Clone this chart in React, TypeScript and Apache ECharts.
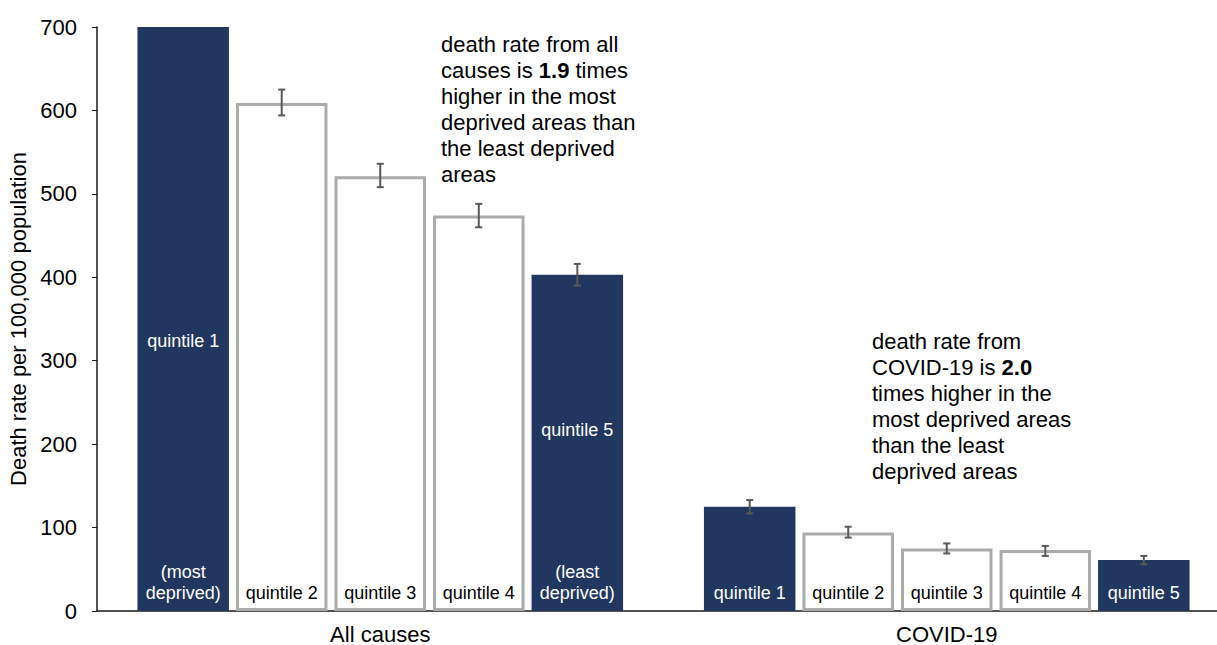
import React, { useEffect, useRef } from "react";
import * as echarts from "echarts";

const categories = ["All causes", "COVID-19"];
const quintileNames = ["quintile 1", "quintile 2", "quintile 3", "quintile 4", "quintile 5"];
// values per quintile: [All causes, COVID-19]
const quintile1 = [766, 125];
const quintile2 = [609, 94];
const quintile3 = [521, 75];
const quintile4 = [474, 73];
const quintile5 = [403, 61];
const seriesValues = [quintile1, quintile2, quintile3, quintile4, quintile5];
// confidence intervals per quintile: [All causes, COVID-19]
const lowerCI = [
  [751, 117],
  [594, 88],
  [508, 69],
  [460, 66],
  [390, 56],
];
const upperCI = [
  [781, 133],
  [625, 101],
  [536, 81],
  [488, 78],
  [416, 66],
];
const yTicks = { min: 0, max: 700, interval: 100 };
const yAxisTitle = "Death rate per 100,000 population";
// extra in-bar labels: [category index, quintile index, y value]
const midLabelPos = [
  [0, 0, 324],
  [0, 4, 217],
];
const midLabelText = ["quintile 1", "quintile 5"];
const noteAll = "death rate from all\ncauses is {b|1.9} times\nhigher in the most\ndeprived areas than\nthe least deprived\nareas";
const noteCovid = "death rate from\nCOVID-19 is {b|2.0}\ntimes higher in the\nmost deprived areas\nthan the least\ndeprived areas";

const NAVY = "#21375f";
const GREY = "#ababab";
const FONT = "Liberation Sans, Arial, sans-serif";
const BAR_W = 0.1615;
const BAR_GAP = 0.077;

function barCenter(api: any, cat: number, s: number) {
  const band = api.size([1, 0])[0];
  const bw = band * BAR_W;
  const gap = bw * BAR_GAP;
  return api.coord([cat, 0])[0] + (s - 2) * (bw + gap);
}

export default function App() {
  const ref = useRef<HTMLDivElement>(null);
  useEffect(() => {
    if (!ref.current) return;
    const chart = echarts.init(ref.current, null, { renderer: "svg" });
    const barSeries = seriesValues.map((vals, i) => {
      const dark = i === 0 || i === 4;
      return {
        type: "bar",
        name: quintileNames[i],
        data: vals,
        barWidth: BAR_W * 100 + "%",
        barGap: BAR_GAP * 100 + "%",
        clip: true,
        itemStyle: dark
          ? { color: NAVY }
          : { color: "#ffffff", borderColor: GREY, borderWidth: 3 },
        label: {
          show: true,
          position: "insideBottom",
          distance: 8,
          color: dark ? "#ffffff" : "#000000",
          fontSize: 18,
          lineHeight: 21,
          fontFamily: FONT,
          formatter: (p: any) => {
            if (p.dataIndex === 0 && i === 0) return "(most\ndeprived)";
            if (p.dataIndex === 0 && i === 4) return "(least\ndeprived)";
            return quintileNames[i];
          },
        },
      };
    });
    const errData: number[][] = [];
    for (let s = 0; s < 5; s++) {
      for (let c = 0; c < categories.length; c++) {
        errData.push([c, s, lowerCI[s][c], upperCI[s][c]]);
      }
    }
    const option: any = {
      animation: false,
      grid: {
        left: 97,
        width: 1133,
        top: 27,
        bottom: 34,
        containLabel: false,
        outerBoundsMode: "none",
      },
      xAxis: {
        type: "category",
        data: categories,
        axisTick: { show: false },
        axisLine: { lineStyle: { color: "#1a1a1a", width: 1.5 } },
        axisLabel: { fontSize: 22, lineHeight: 22, color: "#000", margin: 12, fontFamily: FONT },
      },
      yAxis: {
        type: "value",
        min: yTicks.min,
        max: yTicks.max,
        interval: yTicks.interval,
        name: yAxisTitle,
        nameLocation: "middle",
        nameGap: 65,
        nameTextStyle: { fontSize: 22, color: "#000", fontFamily: FONT },
        splitLine: { show: false },
        axisLine: { show: true, lineStyle: { color: "#1a1a1a", width: 1.5 } },
        axisTick: { show: true, length: 5, lineStyle: { color: "#1a1a1a" } },
        axisLabel: { fontSize: 22, color: "#000", margin: 20, fontFamily: FONT },
      },
      series: [
        ...barSeries,
        {
          type: "custom",
          name: "95% CI",
          clip: true,
          data: errData,
          encode: { x: 0, y: 3 },
          z: 10,
          renderItem: (params: any, api: any) => {
            const cat = api.value(0);
            const s = api.value(1);
            const cx = barCenter(api, cat, s);
            const yLo = api.coord([cat, api.value(2)])[1];
            const yHi = api.coord([cat, api.value(3)])[1];
            const st = { stroke: "#595959", lineWidth: 2 };
            const hw = 3.5;
            return {
              type: "group",
              children: [
                { type: "line", shape: { x1: cx, y1: yLo, x2: cx, y2: yHi }, style: st },
                { type: "line", shape: { x1: cx - hw, y1: yLo, x2: cx + hw, y2: yLo }, style: st },
                { type: "line", shape: { x1: cx - hw, y1: yHi, x2: cx + hw, y2: yHi }, style: st },
              ],
            };
          },
        },
        {
          type: "custom",
          name: "labels",
          data: midLabelPos,
          encode: { x: 0, y: 2 },
          z: 11,
          renderItem: (params: any, api: any) => {
            const cat = api.value(0);
            const s = api.value(1);
            const cx = barCenter(api, cat, s);
            const y = api.coord([cat, api.value(2)])[1];
            return {
              type: "text",
              x: cx,
              y: y,
              style: {
                text: midLabelText[params.dataIndex],
                fill: "#ffffff",
                fontSize: 18,
                fontFamily: FONT,
                align: "center",
                verticalAlign: "middle",
              },
            };
          },
        },
      ],
      graphic: [
        {
          type: "text",
          left: 441,
          top: 31,
          style: {
            text: noteAll,
            fill: "#000",
            fontSize: 22,
            lineHeight: 26,
            fontFamily: FONT,
            rich: { b: { fontWeight: "bold", fontSize: 22, lineHeight: 26, fontFamily: FONT } },
          },
        },
        {
          type: "text",
          left: 872,
          top: 328,
          style: {
            text: noteCovid,
            fill: "#000",
            fontSize: 22,
            lineHeight: 26,
            fontFamily: FONT,
            rich: { b: { fontWeight: "bold", fontSize: 22, lineHeight: 26, fontFamily: FONT } },
          },
        },
      ],
    };
    chart.setOption(option);
    return () => chart.dispose();
  }, []);
  return <div ref={ref} style={{ width: 1217, height: 645, position: "absolute", left: 0, top: 0 }} />;
}
